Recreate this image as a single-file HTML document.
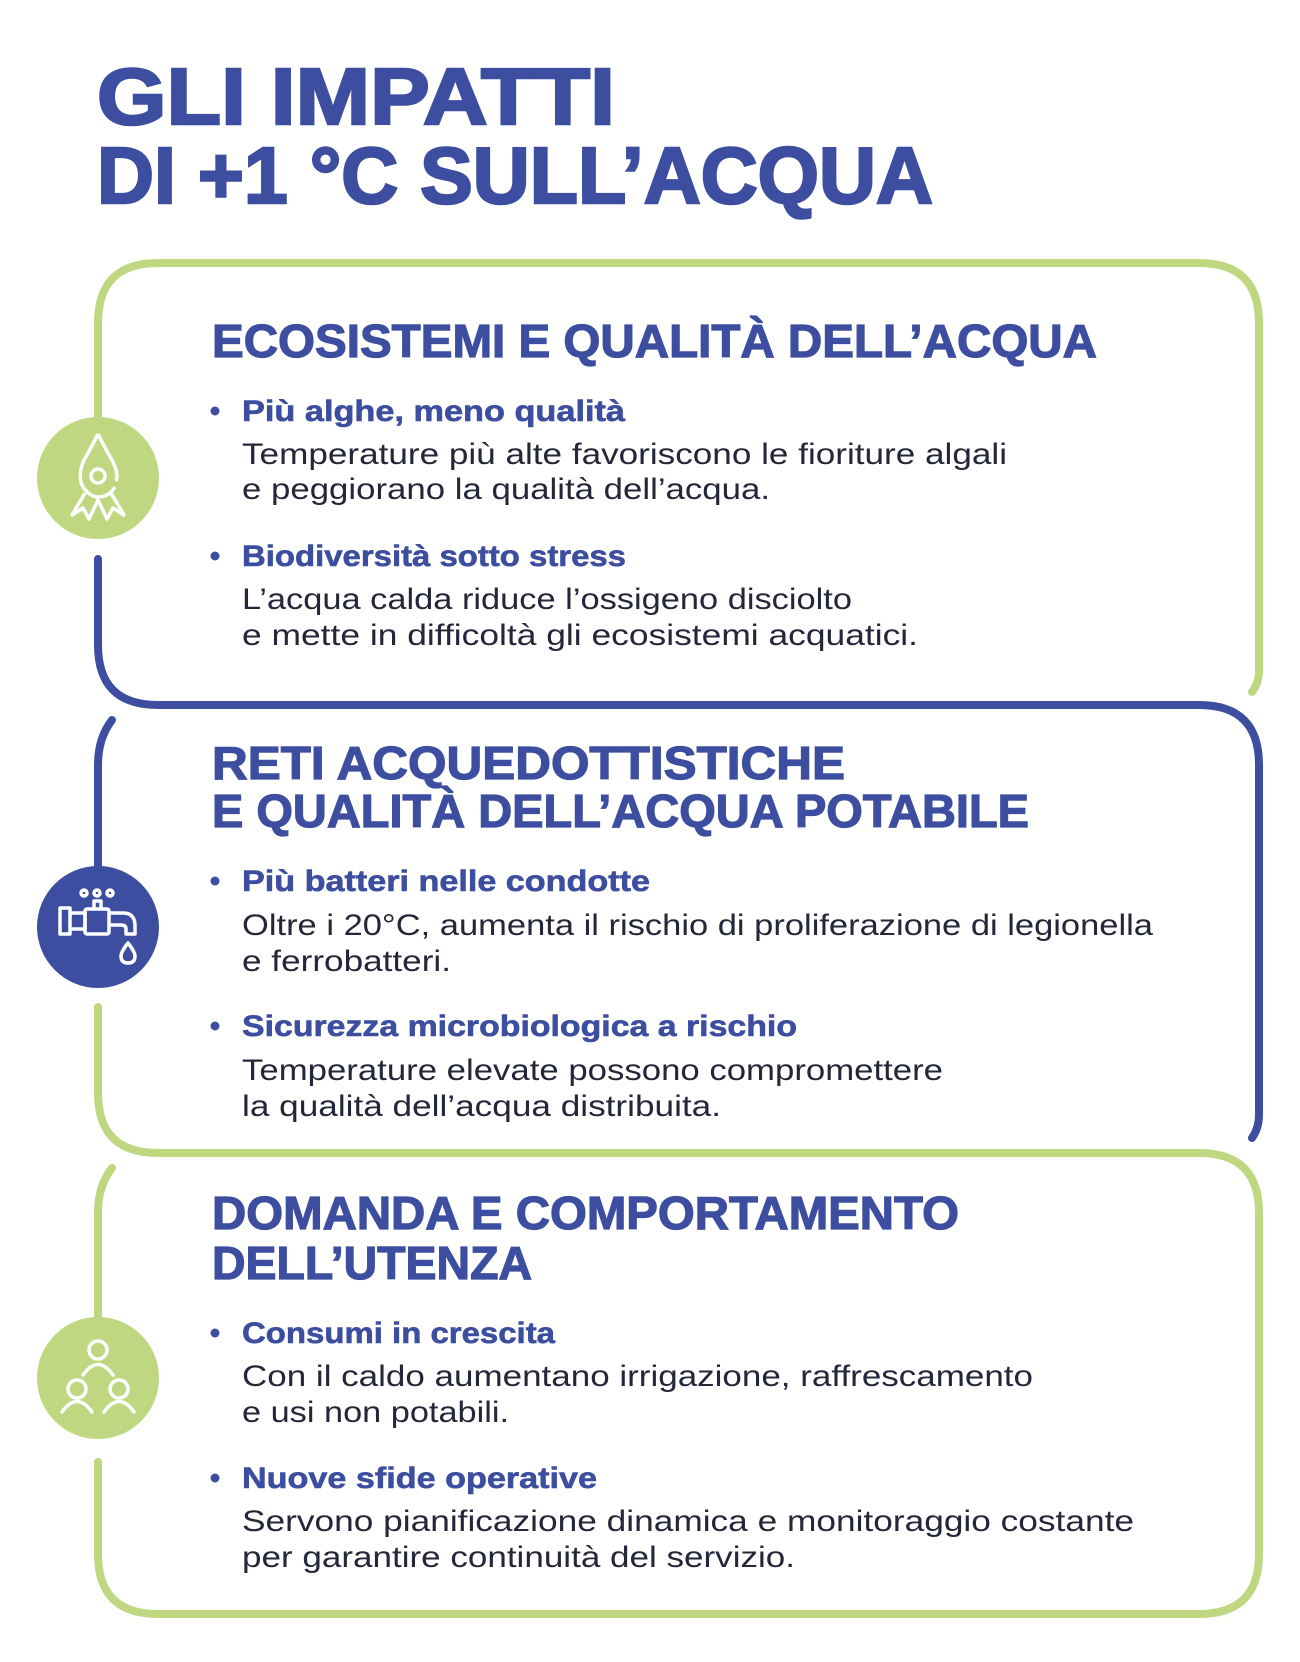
<!DOCTYPE html>
<html><head><meta charset="utf-8"><style>
html,body{margin:0;padding:0;background:#fff;}
svg{display:block;}
.h{font-family:"Liberation Sans",sans-serif;font-weight:bold;fill:#3D4EA0;stroke:#3D4EA0;stroke-width:1.2px;}
.t{stroke-width:2.5px;}
.s{font-family:"Liberation Sans",sans-serif;font-weight:bold;fill:#3D4EA0;font-size:30px;stroke:#3D4EA0;stroke-width:0.6px;}
.b{font-family:"Liberation Sans",sans-serif;fill:#24263A;font-size:30px;}
</style></head><body>
<svg width="1300" height="1662" viewBox="0 0 1300 1662" xmlns="http://www.w3.org/2000/svg">
<rect width="1300" height="1662" fill="#fff"/>
<g fill="none" stroke-width="8" stroke-linecap="round">
<path d="M98,440 L98,323 Q98,263 158,263 L1199,263 Q1259,263 1259,323 L1259,670 Q1259,683 1252,692" stroke="#BFD781"/>
<path d="M98,559 L98,645 Q98,705 158,705 L1199,705 Q1259,705 1259,765 L1259,1115 Q1259,1128 1252,1138" stroke="#3D4EA0"/>
<path d="M112,720 Q98,738 98,765 L98,890" stroke="#3D4EA0"/>
<path d="M98,1007 L98,1093 Q98,1153 158,1153 L1199,1153 Q1259,1153 1259,1213 L1259,1554 Q1259,1614 1199,1614 L158,1614 Q98,1614 98,1554 L98,1462" stroke="#BFD781"/>
<path d="M112,1168 Q98,1186 98,1212 L98,1340" stroke="#BFD781"/>
</g>
<circle cx="98" cy="478" r="61" fill="#BFD781"/>
<circle cx="98" cy="927" r="61" fill="#3D4EA0"/>
<circle cx="98" cy="1378" r="61" fill="#BFD781"/>
<g fill="none" stroke="#fff" stroke-width="3.5" stroke-linejoin="round">
<path d="M98,434 Q106,450 112,460 Q119,474 116,481"/>
<path d="M98,434 Q90,450 84,460 Q77,476 83,487 Q90,497 98,497 Q109,497 115,487"/>
<circle cx="98" cy="476" r="7"/>
<path d="M85,493 L72,515 L83,508 L89,519 L98,500 L107,519 L113,508 L124,515 L111,493"/>
</g>
<g fill="none" stroke="#fff" stroke-width="3.5" stroke-linejoin="round">
<rect x="60" y="908" width="10" height="26"/>
<path d="M70,913 L85,913 L85,929 L70,929"/>
<rect x="85" y="909" width="24" height="25" rx="2"/>
<path d="M109,913 L123,913 Q135,913 135,926 L135,934 L126,934 L126,929 Q126,925 121,925 L109,925"/>
<path d="M94,909 L94,901 L101,901 L101,909"/>
<circle cx="84" cy="893" r="3"/><circle cx="97" cy="893" r="3"/><circle cx="110" cy="893" r="3"/>
<path d="M128,943 Q121,952 121,956 Q121,963 128,963 Q135,963 135,956 Q135,952 128,943 Z"/>
</g>
<g fill="none" stroke="#fff" stroke-width="3.5" stroke-linecap="round">
<circle cx="98" cy="1350" r="9"/><path d="M83,1375 Q98,1354 113,1375"/>
<circle cx="77" cy="1389" r="9"/><path d="M62,1412 Q77,1391 92,1412"/>
<circle cx="119" cy="1389" r="9"/><path d="M104,1412 Q119,1391 134,1412"/>
</g>
<text class="h t" x="97" y="124" font-size="80" textLength="518" lengthAdjust="spacingAndGlyphs">GLI IMPATTI</text>
<text class="h t" x="97" y="203" font-size="80" textLength="836" lengthAdjust="spacingAndGlyphs">DI +1 °C SULL’ACQUA</text>
<text class="h" x="212" y="357" font-size="46" textLength="885" lengthAdjust="spacingAndGlyphs">ECOSISTEMI E QUALITÀ DELL’ACQUA</text>
<text class="h" x="212" y="779" font-size="46" textLength="633" lengthAdjust="spacingAndGlyphs">RETI ACQUEDOTTISTICHE</text>
<text class="h" x="212" y="827" font-size="46" textLength="817" lengthAdjust="spacingAndGlyphs">E QUALITÀ DELL’ACQUA POTABILE</text>
<text class="h" x="212" y="1229" font-size="46" textLength="747" lengthAdjust="spacingAndGlyphs">DOMANDA E COMPORTAMENTO</text>
<text class="h" x="212" y="1279" font-size="46" textLength="320" lengthAdjust="spacingAndGlyphs">DELL’UTENZA</text>
<g fill="#3D4EA0">
<circle cx="215" cy="411" r="4.5"/><circle cx="215" cy="556" r="4.5"/>
<circle cx="215" cy="881" r="4.5"/><circle cx="215" cy="1026" r="4.5"/>
<circle cx="215" cy="1333" r="4.5"/><circle cx="215" cy="1478" r="4.5"/>
</g>
<text class="s" x="242" y="421" textLength="383" lengthAdjust="spacingAndGlyphs">Più alghe, meno qualità</text>
<text class="b" x="242" y="464" textLength="765" lengthAdjust="spacingAndGlyphs">Temperature più alte favoriscono le fioriture algali</text>
<text class="b" x="242" y="499" textLength="528" lengthAdjust="spacingAndGlyphs">e peggiorano la qualità dell’acqua.</text>
<text class="s" x="242" y="566" textLength="384" lengthAdjust="spacingAndGlyphs">Biodiversità sotto stress</text>
<text class="b" x="242" y="609" textLength="610" lengthAdjust="spacingAndGlyphs">L’acqua calda riduce l’ossigeno disciolto</text>
<text class="b" x="242" y="645" textLength="676" lengthAdjust="spacingAndGlyphs">e mette in difficoltà gli ecosistemi acquatici.</text>
<text class="s" x="242" y="891" textLength="408" lengthAdjust="spacingAndGlyphs">Più batteri nelle condotte</text>
<text class="b" x="242" y="935" textLength="911" lengthAdjust="spacingAndGlyphs">Oltre i 20°C, aumenta il rischio di proliferazione di legionella</text>
<text class="b" x="242" y="971" textLength="209" lengthAdjust="spacingAndGlyphs">e ferrobatteri.</text>
<text class="s" x="242" y="1036" textLength="555" lengthAdjust="spacingAndGlyphs">Sicurezza microbiologica a rischio</text>
<text class="b" x="242" y="1080" textLength="701" lengthAdjust="spacingAndGlyphs">Temperature elevate possono compromettere</text>
<text class="b" x="242" y="1116" textLength="479" lengthAdjust="spacingAndGlyphs">la qualità dell’acqua distribuita.</text>
<text class="s" x="242" y="1343" textLength="313" lengthAdjust="spacingAndGlyphs">Consumi in crescita</text>
<text class="b" x="242" y="1386" textLength="791" lengthAdjust="spacingAndGlyphs">Con il caldo aumentano irrigazione, raffrescamento</text>
<text class="b" x="242" y="1422" textLength="267" lengthAdjust="spacingAndGlyphs">e usi non potabili.</text>
<text class="s" x="242" y="1488" textLength="355" lengthAdjust="spacingAndGlyphs">Nuove sfide operative</text>
<text class="b" x="242" y="1531" textLength="892" lengthAdjust="spacingAndGlyphs">Servono pianificazione dinamica e monitoraggio costante</text>
<text class="b" x="242" y="1567" textLength="553" lengthAdjust="spacingAndGlyphs">per garantire continuità del servizio.</text>
</svg>
</body></html>
